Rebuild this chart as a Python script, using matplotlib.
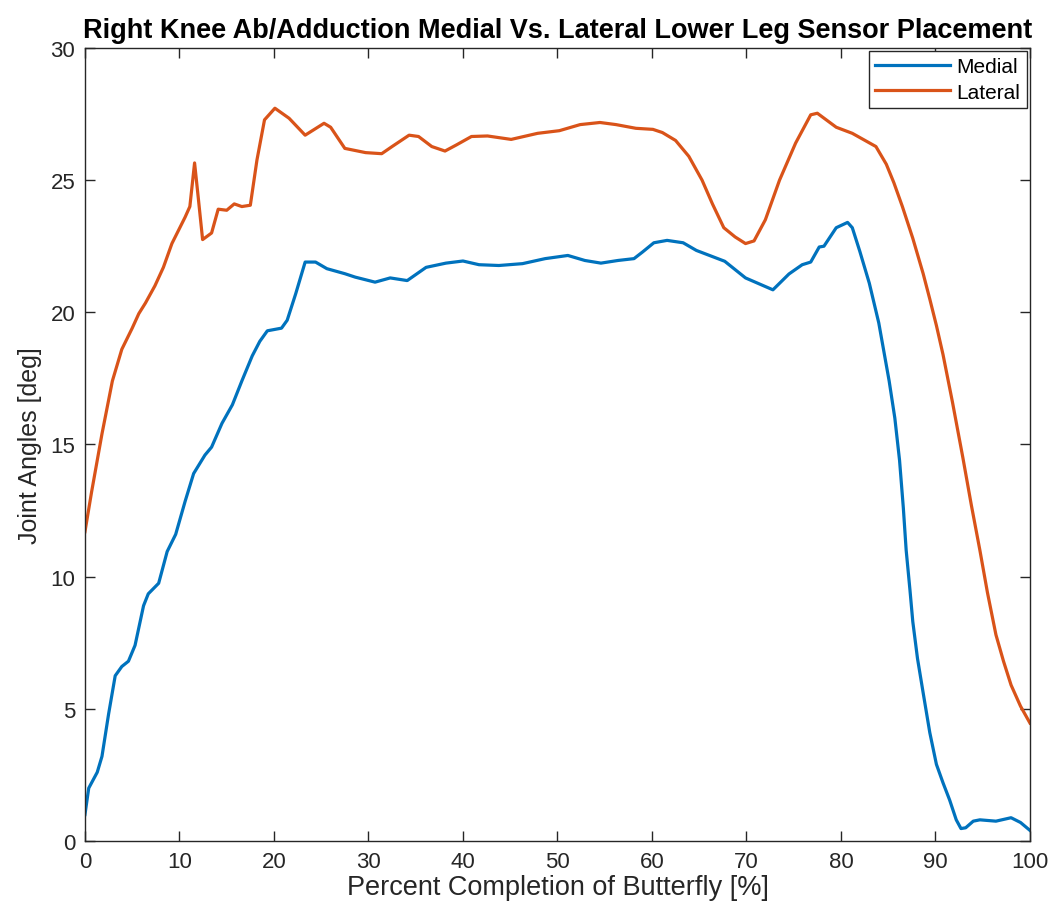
import matplotlib
matplotlib.use("Agg")
import matplotlib.pyplot as plt

# readings
medial_x = [0, 0.4, 1.3, 1.8, 2.5, 3.2, 3.9, 4.6, 5.3, 6.2, 6.7, 7.8, 8.7, 9.6, 10.6,
            11.5, 12.7, 13.4, 14.5, 15.6, 16.6, 17.7, 18.5, 19.3, 20.8, 21.4, 22.3, 23.3,
            24.4, 25.6, 27.5, 28.6, 30.7, 32.3, 34.1, 36.1, 38.2, 40.0, 41.7, 43.8, 46.3,
            48.7, 51.1, 52.9, 54.6, 56.4, 58.1, 59.0, 60.2, 61.6, 63.3, 64.7, 67.7, 69.9,
            72.8, 74.5, 75.9, 76.8, 77.7, 78.2, 79.5, 80.7, 81.2, 82.0, 83.0, 84.0, 85.1,
            85.7, 86.2, 86.6, 86.9, 87.3, 87.6, 88.1, 88.7, 89.4, 90.1, 90.8, 91.5, 92.2,
            92.7, 93.2, 94.0, 94.7, 96.4, 98.0, 99.0, 100]
medial_y = [1.0, 2.0, 2.6, 3.2, 4.8, 6.25, 6.6, 6.8, 7.4, 8.9, 9.35, 9.75, 10.95, 11.6, 12.85,
            13.9, 14.6, 14.9, 15.8, 16.5, 17.4, 18.35, 18.9, 19.3, 19.4, 19.7, 20.7, 21.9,
            21.9, 21.65, 21.46, 21.33, 21.14, 21.3, 21.2, 21.7, 21.86, 21.94, 21.8, 21.77, 21.84,
            22.03, 22.15, 21.96, 21.86, 21.96, 22.03, 22.28, 22.63, 22.72, 22.63, 22.34, 21.93, 21.3,
            20.85, 21.45, 21.8, 21.9, 22.47, 22.5, 23.2, 23.4, 23.2, 22.3, 21.1, 19.6, 17.4,
            16.0, 14.4, 12.6, 11.0, 9.5, 8.3, 6.9, 5.6, 4.1, 2.9, 2.2, 1.55, 0.8,
            0.47, 0.5, 0.75, 0.8, 0.75, 0.88, 0.7, 0.4]

lateral_x = [0, 0.7, 1.8, 2.9, 3.9, 5.0, 5.7, 6.4, 7.4, 8.3, 9.2, 10.6, 11.1, 11.6, 12.0,
             12.45, 13.4, 14.1, 15.0, 15.8, 16.6, 17.5, 18.2, 19.0, 20.1, 21.6, 23.3, 25.3,
             26.0, 27.5, 29.7, 31.4, 32.5, 34.3, 35.3, 36.7, 38.1, 39.3, 40.9, 42.6, 45.1,
             47.9, 50.2, 52.4, 54.5, 56.2, 58.3, 60.1, 61.1, 62.5, 63.9, 65.3, 66.4, 67.6,
             68.8, 69.9, 70.8, 72.0, 73.5, 75.2, 76.8, 77.5, 79.5, 81.2, 83.7, 84.8, 85.6,
             86.5, 87.6, 88.7, 89.4, 90.1, 90.8, 91.8, 92.9, 93.8, 94.7, 95.5, 96.4, 97.2,
             98.0, 99.0, 100]
lateral_y = [11.7, 13.2, 15.4, 17.4, 18.6, 19.4, 19.95, 20.35, 21.0, 21.7, 22.6, 23.6, 24.0, 25.65, 24.3,
             22.75, 23.0, 23.9, 23.86, 24.1, 24.0, 24.05, 25.76, 27.28, 27.72, 27.34, 26.7, 27.15,
             27.0, 26.2, 26.04, 26.0, 26.27, 26.7, 26.65, 26.27, 26.1, 26.33, 26.65, 26.67, 26.54,
             26.77, 26.87, 27.1, 27.18, 27.1, 26.96, 26.92, 26.8, 26.5, 25.9, 25.0, 24.1, 23.2,
             22.85, 22.6, 22.7, 23.5, 25.0, 26.4, 27.47, 27.53, 27.0, 26.77, 26.27, 25.6, 24.9,
             24.0, 22.8, 21.46, 20.5, 19.5, 18.4, 16.6, 14.5, 12.7, 11.0, 9.4, 7.8, 6.8,
             5.9, 5.1, 4.46]

plt.rcParams['font.family'] = ['Liberation Sans', 'DejaVu Sans']
axcol = '#262626'

fig = plt.figure(figsize=(10.58, 9.2), dpi=100)
ax = fig.add_axes([0.0803, 0.0848, 0.8932, 0.862])

ax.plot(medial_x, medial_y, color='#0072BD', linewidth=2.3, label='Medial')
ax.plot(lateral_x, lateral_y, color='#D95319', linewidth=2.3, label='Lateral')

ax.set_xlim(0, 100)
ax.set_ylim(0, 30)
ax.set_xticks(range(0, 101, 10))
ax.set_yticks(range(0, 31, 5))
ax.tick_params(direction='in', top=True, right=True, length=7, width=1,
               colors=axcol, labelsize=16, pad=7)
for s in ax.spines.values():
    s.set_color(axcol)
    s.set_linewidth(1)

ax.set_xlabel('Percent Completion of Butterfly [%]', fontsize=19.5, color=axcol, labelpad=2)
ax.set_ylabel('Joint Angles [deg]', fontsize=18, color=axcol, labelpad=6)
ax.set_title('Right Knee Ab/Adduction Medial Vs. Lateral Lower Leg Sensor Placement',
             fontsize=19.5, fontweight='bold', color='black', pad=8)

leg = ax.legend(loc='upper right', fontsize=15, fancybox=False, framealpha=1,
                edgecolor=axcol, handlelength=3.6, borderaxespad=0.15, borderpad=0.3,
                labelspacing=0.3, handletextpad=0.3)
leg.get_frame().set_linewidth(1)

fig.savefig('out.png', dpi=100)
